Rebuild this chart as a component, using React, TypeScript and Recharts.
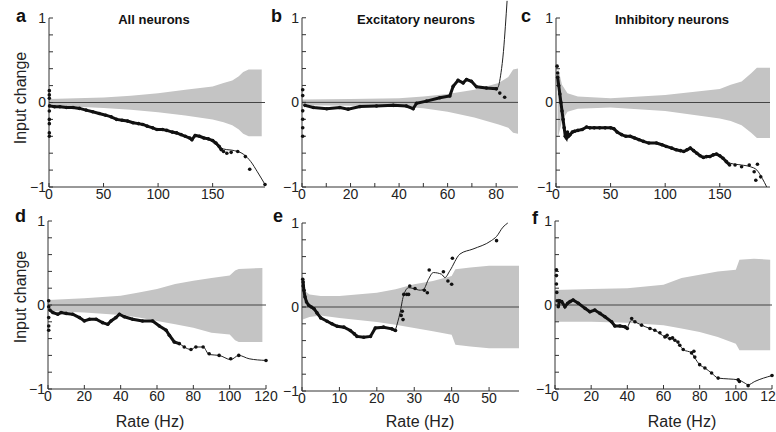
import React from 'react';
import { ComposedChart, Area, Line, Scatter, XAxis, YAxis, ReferenceLine } from 'recharts';

type Pt = [number, number];
type Bd = [number, number, number];

// a: all neurons, top row
const aBand: Bd[] = [
  [0, -0.04, 0.04], [25, -0.05, 0.05], [50, -0.065, 0.06], [75, -0.085, 0.08],
  [100, -0.115, 0.11], [125, -0.155, 0.15], [150, -0.2, 0.19], [160, -0.235, 0.23],
  [168, -0.27, 0.26], [174, -0.32, 0.31], [178, -0.37, 0.36], [183, -0.4, 0.39], [195, -0.4, 0.39],
];
const aTrace: Pt[] = [
  [0.5, -0.04], [5, -0.05], [10, -0.05], [16, -0.06], [22, -0.06], [28, -0.07], [34, -0.09],
  [40, -0.11], [46, -0.13], [52, -0.15], [57, -0.17], [62, -0.2], [67, -0.21], [72, -0.22],
  [77, -0.24], [82, -0.25], [86, -0.26], [90, -0.28], [95, -0.3], [99, -0.32], [104, -0.32],
  [108, -0.33], [113, -0.35], [117, -0.36], [121, -0.38], [125, -0.4], [129, -0.42], [131, -0.44],
  [134, -0.39], [138, -0.4], [142, -0.42], [146, -0.43], [150, -0.45], [153, -0.48], [156, -0.52], [158, -0.56],
];
const aFit: Pt[] = [[150, -0.47], [160, -0.55], [170, -0.57], [178, -0.61], [185, -0.7], [191, -0.82], [198, -0.97]];
const aDots: Pt[] = [
  [0.3, 0.14], [0.3, 0.09], [0.3, 0.05], [0.3, -0.1], [0.3, -0.2], [0.3, -0.25], [0.3, -0.36], [0.3, -0.4],
  [160, -0.58], [163, -0.6], [167, -0.59], [173, -0.58], [180, -0.64], [184, -0.79], [198, -0.97],
];

// b: excitatory neurons, top row
const bBand: Bd[] = [
  [0, -0.035, 0.035], [20, -0.04, 0.04], [40, -0.05, 0.05], [50, -0.07, 0.07], [60, -0.11, 0.1],
  [71, -0.18, 0.15], [81, -0.26, 0.23], [85, -0.3, 0.3], [87, -0.36, 0.39], [89, -0.37, 0.4],
];
const bTrace: Pt[] = [
  [1.2, -0.035], [4.7, -0.06], [10.2, -0.075], [15.6, -0.06], [19, -0.08], [23.9, -0.05], [30.7, -0.043],
  [37.6, -0.035], [43, -0.043], [45.8, -0.075], [47.2, -0.01], [51.3, 0.015], [56.8, 0.055], [60.9, 0.075],
  [62.3, 0.19], [64.3, 0.26], [66.4, 0.23], [67.8, 0.27], [69.8, 0.25], [71.9, 0.185], [76, 0.17], [80.1, 0.16],
];
const bFit: Pt[] = [[76, 0.17], [80.5, 0.17], [82, 0.35], [83, 0.6], [83.8, 0.9], [84.5, 1.2]];
const bDots: Pt[] = [
  [0.3, 0.15], [0.3, 0.08], [0.3, -0.1], [0.3, -0.2], [0.3, -0.3], [0.3, -0.4], [81.5, 0.11], [83.5, 0.06],
];

// c: inhibitory neurons, top row
const cBand: Bd[] = [
  [1.5, -0.42, 0.41], [2.5, -0.38, 0.38], [5.5, -0.22, 0.21], [10.5, -0.11, 0.11], [20, -0.075, 0.07],
  [50, -0.06, 0.05], [100, -0.1, 0.09], [150, -0.19, 0.16], [160, -0.22, 0.21], [170, -0.27, 0.25],
  [179, -0.36, 0.35], [184, -0.42, 0.41], [196, -0.42, 0.41],
];
const cTrace: Pt[] = [
  [1.5, 0.3], [2.5, 0.2], [3.5, 0.1], [4.5, 0], [5.5, -0.1], [6.5, -0.2], [7.5, -0.3], [8.5, -0.4],
  [9.5, -0.42], [10.5, -0.35], [11.5, -0.4], [13, -0.38], [15, -0.35], [17, -0.34], [20, -0.33], [24, -0.32],
  [28, -0.29], [31, -0.3], [35, -0.3], [40, -0.3], [45, -0.3], [50, -0.3], [53, -0.31], [56, -0.35],
  [60, -0.38], [64, -0.4], [68, -0.4], [72, -0.42], [76, -0.44], [80, -0.46], [85, -0.48], [92, -0.48],
  [97, -0.5], [101, -0.52], [106, -0.54], [110, -0.56], [114, -0.57], [117, -0.58], [120, -0.56],
  [123, -0.54], [126, -0.57], [129, -0.6], [132, -0.63], [135, -0.65], [138, -0.64], [141, -0.64],
  [144, -0.62], [147, -0.61], [150, -0.63], [153, -0.66], [156, -0.7], [159, -0.74],
];
const cFit: Pt[] = [[150, -0.63], [160, -0.72], [170, -0.74], [178, -0.76], [184, -0.8], [189, -0.9], [193, -1]];
const cDots: Pt[] = [
  [1, 0.43], [1.5, 0.35], [164, -0.74], [170, -0.76], [177, -0.74], [181.5, -0.82], [184.5, -0.73],
  [183, -0.92], [187.5, -0.88],
];

// d: all neurons, bottom row
const dBand: Bd[] = [
  [0, -0.07, 0.06], [20, -0.09, 0.08], [40, -0.12, 0.11], [50, -0.15, 0.15], [60, -0.19, 0.19],
  [70, -0.23, 0.25], [80, -0.27, 0.29], [90, -0.33, 0.32], [100, -0.35, 0.35], [103, -0.42, 0.41],
  [105, -0.44, 0.43], [118, -0.44, 0.44],
];
const dTrace: Pt[] = [
  [1, -0.06], [2.7, -0.09], [5.4, -0.11], [7.2, -0.09], [10, -0.1], [13.6, -0.11], [17.3, -0.15],
  [20, -0.19], [22.8, -0.17], [26.5, -0.17], [30, -0.21], [32.9, -0.23], [34.7, -0.19], [37.4, -0.15],
  [39.3, -0.11], [42, -0.14], [46.6, -0.17], [52, -0.19], [57.6, -0.19], [61.3, -0.25], [65, -0.3],
  [66.8, -0.36], [69.5, -0.44], [72.3, -0.46],
];
const dFit: Pt[] = [
  [69.5, -0.44], [72.3, -0.46], [75, -0.5], [78.7, -0.53], [81.4, -0.5], [85.4, -0.5], [88.7, -0.59],
  [94.2, -0.6], [100.6, -0.65], [105, -0.6], [110.7, -0.64], [120, -0.66],
];
const dDots: Pt[] = [
  [0.4, 0.05], [0.4, -0.02], [0.4, -0.15], [0.4, -0.25], [0.4, -0.3], [75, -0.5], [78.7, -0.53],
  [81.4, -0.5], [85.4, -0.5], [88.7, -0.58], [94.2, -0.6], [100.6, -0.64], [105, -0.6], [120, -0.66],
];

// e: excitatory neurons, bottom row
const eBand: Bd[] = [
  [0.2, -0.15, 0.21], [2, -0.12, 0.15], [5, -0.1, 0.13], [10, -0.13, 0.13], [20, -0.18, 0.17],
  [25, -0.21, 0.21], [30, -0.25, 0.27], [35, -0.29, 0.31], [40, -0.33, 0.37], [41, -0.45, 0.45],
  [45, -0.47, 0.47], [50, -0.49, 0.49], [58, -0.49, 0.49],
];
const eTrace: Pt[] = [
  [0.3, 0.3], [0.5, 0.2], [0.8, 0.12], [1.2, 0.06], [1.8, 0.02], [2.5, 0], [3.2, -0.02], [4, -0.07],
  [5, -0.13], [6.7, -0.17], [8, -0.2], [9.4, -0.23], [11.2, -0.24], [12.9, -0.28], [14, -0.32],
  [14.7, -0.35], [16.5, -0.36], [18.3, -0.35], [19.6, -0.25], [21.8, -0.24], [24, -0.26], [25, -0.28],
];
const eFit: Pt[] = [
  [25, -0.27], [26.2, -0.07], [27.1, 0.13], [28.5, 0.23], [29.8, 0.22], [31.6, 0.2], [32.5, 0.21],
  [33.8, 0.33], [35.1, 0.41], [37.3, 0.39], [38.2, 0.35], [39.5, 0.43], [42.2, 0.63], [45.7, 0.69],
  [50.6, 0.79], [52, 0.84], [53.7, 0.95], [55, 1],
];
const eDots: Pt[] = [
  [0.2, 0.33], [0.3, 0.25], [26.5, -0.1], [26.8, -0.05], [27, -0.15], [27.2, 0.15], [28, 0.15],
  [28.5, 0.15], [28.8, 0.25], [30.2, 0.22], [32.7, 0.2], [33.5, 0.17], [34, 0.44], [37.8, 0.42],
  [39, 0.31], [40, 0.27], [40.2, 0.58], [52, 0.79],
];

// f: inhibitory neurons, bottom row
const fBand: Bd[] = [
  [0, -0.2, 0.18], [20, -0.2, 0.19], [40, -0.21, 0.2], [60, -0.24, 0.24], [70, -0.28, 0.32],
  [80, -0.32, 0.36], [90, -0.38, 0.4], [100, -0.46, 0.42], [102, -0.54, 0.54], [110, -0.54, 0.55], [119, -0.54, 0.54],
];
const fTrace: Pt[] = [
  [1.8, -0.02], [2.5, 0.05], [3.7, 0.04], [5.5, -0.02], [7, 0.02], [8.3, 0.04], [10, 0.06], [12.9, 0.02],
  [16.6, -0.04], [19.3, -0.08], [22, -0.06], [24.9, -0.1], [27.6, -0.14], [31.3, -0.2], [33.1, -0.25],
  [35.9, -0.25], [38.7, -0.26], [40, -0.28],
];
const fFit: Pt[] = [
  [40, -0.28], [42.4, -0.18], [44.2, -0.2], [47.9, -0.24], [52.5, -0.28], [55.2, -0.3], [58, -0.34],
  [60.8, -0.38], [63.5, -0.4], [66.3, -0.42], [69, -0.48], [70.9, -0.53], [75.5, -0.57], [77.3, -0.63],
  [80, -0.71], [82.9, -0.75], [86.6, -0.81], [90.2, -0.87], [95.8, -0.88], [101.3, -0.89], [105, -0.93],
  [106.8, -0.95], [110.5, -0.91], [120, -0.84],
];
const fDots: Pt[] = [
  [0.8, 0.42], [0.8, 0.35], [0.8, 0.25], [1, 0.15], [1.2, 0.05], [42.4, -0.16], [44.2, -0.2], [47.9, -0.24],
  [52.5, -0.28], [55.2, -0.3], [58, -0.33], [60.8, -0.38], [62, -0.36], [63.5, -0.4], [65, -0.39],
  [66.3, -0.42], [68, -0.44], [69, -0.48], [70.9, -0.53], [75.5, -0.57], [76.8, -0.55], [77.3, -0.62],
  [80, -0.71], [82.9, -0.75], [86.6, -0.81], [90.2, -0.87], [101.3, -0.89], [102, -0.91], [106.8, -0.96], [120, -0.84],
];

const yTicks = [-1, -0.8, -0.6, -0.4, -0.2, 0, 0.2, 0.4, 0.6, 0.8, 1];
const FONT = '"Liberation Sans", Arial, sans-serif';

const pts = (a: Pt[]) => a.map(([x, y]) => ({ x, y }));
const band = (a: Bd[]) => a.map(([x, lo, hi]) => ({ x, r: [lo, hi] }));
const fmtY = (v: number) => (v === 1 ? '1' : v === 0 ? '0' : v === -1 ? '\u22121' : '');

interface PanelProps {
  left: number; top: number; w: number; h: number;
  xMax: number; xTicks: number[]; labelStep: number; yMax?: number;
  bandData: Bd[]; trace: Pt[]; fit: Pt[]; dots: Pt[];
}

function Panel({ left, top, w, h, xMax, xTicks, labelStep, yMax = 1, bandData, trace, fit, dots }: PanelProps) {
  const tickStyle = { fontSize: 14, fill: '#222', fontFamily: FONT };
  return (
    <div style={{ position: 'absolute', left: left - 40, top: top - 10 }}>
      <ComposedChart width={w + 60} height={h + 40} margin={{ top: 10, right: 20, left: 0, bottom: 0 }}>
        <XAxis
          type="number" dataKey="x" domain={[0, xMax]} ticks={xTicks} height={30}
          tickFormatter={(v: number) => (v % labelStep === 0 ? String(v) : '')}
          tickSize={-4} tickMargin={6} stroke="#333" tick={tickStyle} interval={0}
        />
        <YAxis
          type="number" dataKey="y" domain={[-1, yMax]} ticks={yTicks} width={40}
          tickFormatter={fmtY} tickSize={-4} tickMargin={7} axisLine={false} stroke="#333"
          tick={tickStyle} interval={0}
        />
        <Area data={band(bandData)} dataKey="r" type="linear" fill="#c4c4c4" fillOpacity={1} stroke="none" isAnimationActive={false} />
        <ReferenceLine y={0} stroke="#444" strokeWidth={1} />
        <ReferenceLine segment={[{ x: 0, y: -1 }, { x: 0, y: 1 }]} stroke="#333" strokeWidth={1} />
        <Line data={pts(trace)} dataKey="y" type="linear" stroke="#111" strokeWidth={3}
          dot={{ r: 1.8, fill: '#111', stroke: 'none' }} isAnimationActive={false} />
        <Line data={pts(fit)} dataKey="y" type="monotone" stroke="#222" strokeWidth={1} dot={false} isAnimationActive={false} />
        <Scatter data={pts(dots)} dataKey="y" isAnimationActive={false}
          shape={(p: any) => <circle cx={p.cx} cy={p.cy} r={1.8} fill="#111" />} />
      </ComposedChart>
    </div>
  );
}

export default function App() {
  const letter = { fontSize: 18, fontWeight: 700, fontFamily: FONT, fill: '#111' } as const;
  const title = { fontSize: 13, fontWeight: 700, fontFamily: FONT, fill: '#111', textAnchor: 'middle' } as const;
  const axisLbl = { fontSize: 16, fontFamily: FONT, fill: '#222', textAnchor: 'middle' } as const;
  return (
    <div style={{ position: 'absolute', left: 0, top: 0, width: 776, height: 432, background: '#fff', overflow: 'hidden' }}>
      <Panel left={49} top={18} w={216} h={169} xMax={198} xTicks={[0, 50, 100, 150]} labelStep={50}
        bandData={aBand} trace={aTrace} fit={aFit} dots={aDots} />
      <Panel left={302} top={0} w={216} h={187} xMax={89} yMax={1.21} xTicks={[0, 10, 20, 30, 40, 50, 60, 70, 80]} labelStep={20}
        bandData={bBand} trace={bTrace} fit={bFit} dots={bDots} />
      <Panel left={556} top={18} w={214} h={169} xMax={196} xTicks={[0, 50, 100, 150]} labelStep={50}
        bandData={cBand} trace={cTrace} fit={cFit} dots={cDots} />
      <Panel left={48} top={221} w={218} h={168} xMax={120} xTicks={[0, 20, 40, 60, 80, 100, 120]} labelStep={20}
        bandData={dBand} trace={dTrace} fit={dFit} dots={dDots} />
      <Panel left={302} top={223} w={217} h={168} xMax={58} xTicks={[0, 10, 20, 30, 40, 50]} labelStep={10}
        bandData={eBand} trace={eTrace} fit={eFit} dots={eDots} />
      <Panel left={555} top={221} w={217} h={168} xMax={120} xTicks={[0, 20, 40, 60, 80, 100, 120]} labelStep={20}
        bandData={fBand} trace={fTrace} fit={fFit} dots={fDots} />
      <svg width={776} height={432} style={{ position: 'absolute', left: 0, top: 0, pointerEvents: 'none' }}>
        <text x={16} y={22} {...letter}>a</text>
        <text x={271} y={22} {...letter}>b</text>
        <text x={521} y={22} {...letter}>c</text>
        <text x={15} y={222} {...letter}>d</text>
        <text x={273} y={222} {...letter}>e</text>
        <text x={532} y={224} {...letter}>f</text>
        <text x={154} y={24} {...title}>All neurons</text>
        <text x={416} y={24} {...title}>Excitatory neurons</text>
        <text x={672} y={24} {...title}>Inhibitory neurons</text>
        <text x={26} y={98} transform="rotate(-90 26 98)" {...axisLbl}>Input change</text>
        <text x={26} y={297} transform="rotate(-90 26 297)" {...axisLbl}>Input change</text>
        <text x={150} y={427} {...axisLbl}>Rate (Hz)</text>
        <text x={420} y={427} {...axisLbl}>Rate (Hz)</text>
        <text x={682} y={427} {...axisLbl}>Rate (Hz)</text>
      </svg>
    </div>
  );
}
